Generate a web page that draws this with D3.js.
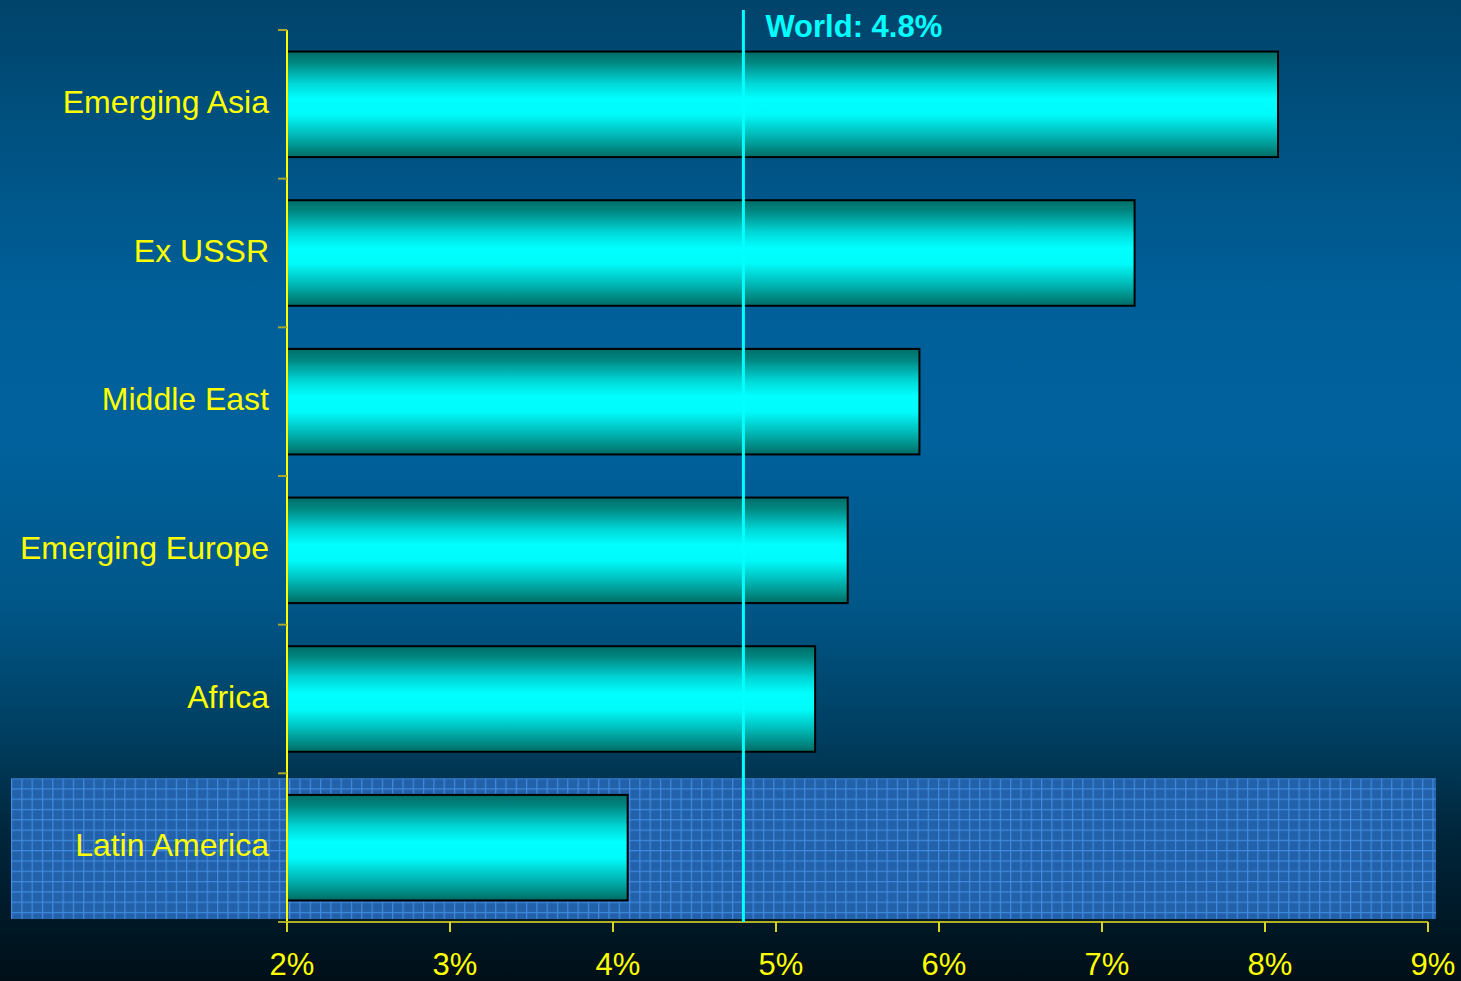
<!DOCTYPE html>
<html>
<head>
<meta charset="utf-8">
<script src="https://cdn.jsdelivr.net/npm/d3@7"></script>
<style>
  html, body { margin: 0; padding: 0; background: #002a44; }
  svg { display: block; }
  text { font-family: "Liberation Sans", Arial, sans-serif; }
</style>
</head>
<body>
<svg id="chart" width="1461" height="981"></svg>
<script>
// Regional growth rates (%), top to bottom
const regions = ["Emerging Asia", "Ex USSR", "Middle East", "Emerging Europe", "Africa", "Latin America"];
const growth = [8.08, 7.2, 5.88, 5.44, 5.24, 4.09];
const worldGrowth = 4.8;
const xTicks = [2, 3, 4, 5, 6, 7, 8, 9];
const highlighted = "Latin America";

const W = 1461, H = 981;
const margin = { left: 287, right: 33, top: 30, bottom: 59 };

const svg = d3.select("#chart");
const defs = svg.append("defs");

// Background: deep navy at the edges, brighter blue in the middle
const bg = defs.append("linearGradient").attr("id", "bg")
  .attr("x1", 0).attr("y1", 0).attr("x2", 0).attr("y2", 1);
[[0, "#00436a"], [0.12, "#00507e"], [0.3, "#005f99"], [0.45, "#00619c"],
 [0.62, "#005687"], [0.75, "#003e60"], [0.85, "#00263b"], [1, "#000f18"]]
  .forEach(([o, c]) => bg.append("stop").attr("offset", o).attr("stop-color", c));

// Bar fill: dark teal at top/bottom edges, bright cyan in the centre
const barGrad = defs.append("linearGradient").attr("id", "barGrad")
  .attr("x1", 0).attr("y1", 0).attr("x2", 0).attr("y2", 1);
[[0, "#006e68"], [0.1, "#008580"], [0.3, "#00d6d6"], [0.45, "#00ffff"],
 [0.6, "#00fafa"], [0.78, "#00bdbb"], [0.92, "#008a84"], [1, "#006a64"]]
  .forEach(([o, c]) => barGrad.append("stop").attr("offset", o).attr("stop-color", c));

// Grid texture for the highlighted row
const cell = 10.3;
const pat = defs.append("pattern").attr("id", "grid")
  .attr("patternUnits", "userSpaceOnUse").attr("width", cell).attr("height", cell)
  .attr("x", 11).attr("y", 778);
pat.append("rect").attr("width", cell).attr("height", cell).attr("fill", "#1d5ca4");
const dots = defs.append("pattern").attr("id", "dots")
  .attr("patternUnits", "userSpaceOnUse").attr("width", 2).attr("height", 2);
dots.append("rect").attr("width", 1).attr("height", 1).attr("fill", "#2867b0");
dots.append("rect").attr("x", 1).attr("y", 1).attr("width", 1).attr("height", 1).attr("fill", "#2867b0");
pat.append("rect").attr("width", cell).attr("height", cell).attr("fill", "url(#dots)");
pat.append("rect").attr("x", 0).attr("y", 0).attr("width", 1.2).attr("height", cell).attr("fill", "#3f8ae0");
pat.append("rect").attr("x", 0).attr("y", 0).attr("width", cell).attr("height", 1.2).attr("fill", "#3f8ae0");

svg.append("rect").attr("width", W).attr("height", H).attr("fill", "url(#bg)");

const x = d3.scaleLinear().domain([2, 9]).range([margin.left, 1428]);
const y = d3.scaleBand().domain(regions)
  .range([margin.top, H - margin.bottom])
  .paddingInner(0.29).paddingOuter(0.145);
const step = y.step();

// Highlight band behind the selected region
const hiTop = y(highlighted) - y.paddingOuter() * step + 5;
svg.append("rect")
  .attr("x", 11).attr("y", hiTop)
  .attr("width", 1436 - 11).attr("height", H - margin.bottom - hiTop - 3)
  .attr("fill", "url(#grid)");

// Bars
svg.append("g").selectAll("rect").data(regions).join("rect")
  .attr("x", x(2))
  .attr("y", d => y(d))
  .attr("width", (d, i) => x(growth[i]) - x(2))
  .attr("height", y.bandwidth())
  .attr("fill", "url(#barGrad)")
  .attr("stroke", "#000")
  .attr("stroke-width", 2);

// Category axis
const yAxis = svg.append("g").attr("transform", `translate(${margin.left},0)`);
yAxis.append("line")
  .attr("x1", 0).attr("x2", 0)
  .attr("y1", margin.top).attr("y2", H - margin.bottom)
  .attr("stroke", "#ffff00").attr("stroke-width", 2);
const bounds = d3.range(regions.length + 1).map(i => margin.top + i * (H - margin.bottom - margin.top) / regions.length);
yAxis.selectAll("line.tick").data(bounds).join("line").attr("class", "tick")
  .attr("x1", -9).attr("x2", 0)
  .attr("y1", d => d).attr("y2", d => d)
  .attr("stroke", "#a8a82a").attr("stroke-width", 2);
yAxis.selectAll("text").data(regions).join("text")
  .attr("x", -18)
  .attr("y", d => y(d) + y.bandwidth() / 2 - 3)
  .attr("dy", "0.36em")
  .attr("text-anchor", "end")
  .attr("fill", "#ffff00")
  .attr("font-size", 32)
  .text(d => d);

// Value axis
const xAxis = svg.append("g").attr("transform", `translate(0,${H - margin.bottom})`);
xAxis.append("line")
  .attr("x1", x(2)).attr("x2", x(9))
  .attr("stroke", "#b0b022").attr("stroke-width", 2);
xAxis.selectAll("line.tick").data(xTicks).join("line").attr("class", "tick")
  .attr("x1", d => x(d)).attr("x2", d => x(d))
  .attr("y1", 0).attr("y2", 10)
  .attr("stroke", "#d8d820").attr("stroke-width", 2);
xAxis.selectAll("text").data(xTicks).join("text")
  .attr("x", d => x(d) + 5)
  .attr("y", 53)
  .attr("text-anchor", "middle")
  .attr("fill", "#ffff00")
  .attr("font-size", 31)
  .text(d => d + "%");

// World average reference line
svg.append("line")
  .attr("x1", x(worldGrowth)).attr("x2", x(worldGrowth))
  .attr("y1", 10).attr("y2", H - margin.bottom)
  .attr("stroke", "#00ffff").attr("stroke-width", 3);
svg.append("text")
  .attr("x", x(worldGrowth) + 22).attr("y", 37)
  .attr("fill", "#00ffff")
  .attr("font-size", 31)
  .attr("font-weight", "bold")
  .text(`World: ${worldGrowth}%`);
</script>
</body>
</html>
